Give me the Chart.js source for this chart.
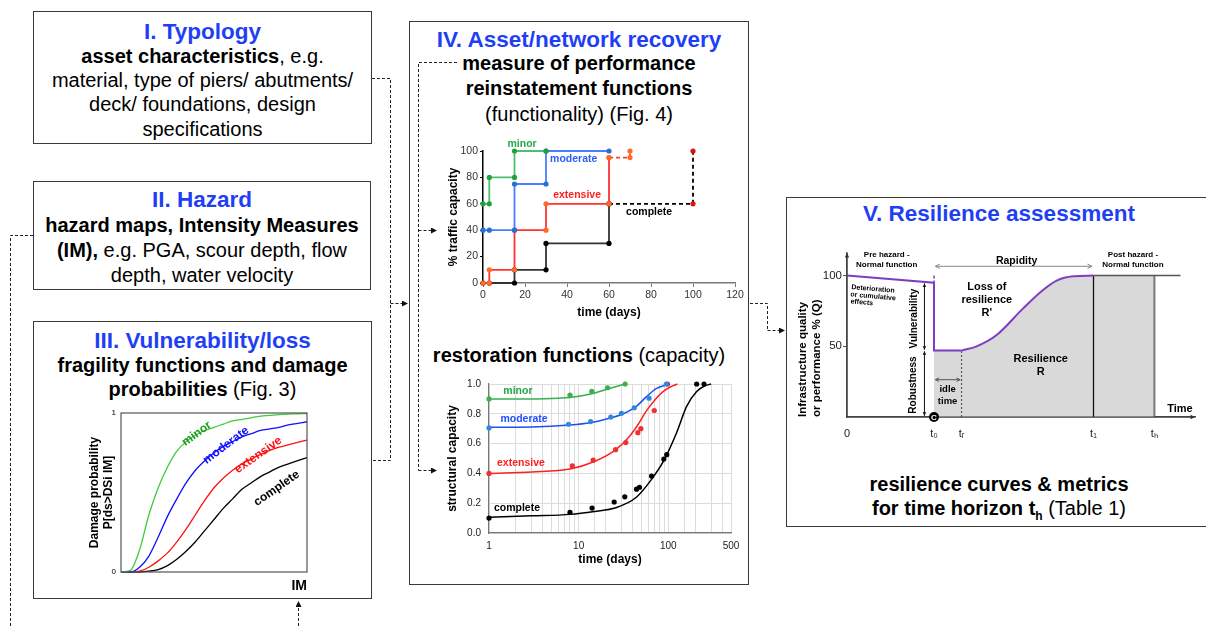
<!DOCTYPE html>
<html lang="en">
<head>
<meta charset="UTF-8" />
<title>Bridge resilience assessment framework</title>
<script src="https://cdn.jsdelivr.net/npm/chart.js"></script>
<style>
  body { margin: 0; background: #fff; font-family: 'Liberation Sans', Arial, sans-serif; }
  #page { position: relative; width: 1206px; height: 626px; overflow: hidden; }
  .box { position: absolute; box-sizing: border-box; border: 1.5px solid #3a3a3a; }
  .txt { position: absolute; text-align: center; color: #000; font-size: 20px; white-space: nowrap; }
  .ttl { position: absolute; text-align: center; color: #1f3ff5; font-size: 22.5px; font-weight: bold; line-height: 26px; white-space: nowrap; }
  canvas { position: absolute; }
  svg { position: absolute; left: 0; top: 0; }
</style>
</head>
<body>
<div id="page">
  <div class="box" style="left:33px;top:11px;width:339px;height:133px"></div>
  <div class="box" style="left:33px;top:181px;width:338px;height:109px"></div>
  <div class="box" style="left:33px;top:321px;width:339px;height:278px"></div>
  <div class="box" style="left:409px;top:21px;width:340px;height:564px"></div>
  <div class="box" style="left:786px;top:197px;width:440px;height:330px"></div>

  <div class="ttl" style="left:33px;width:339px;top:18.7px">I. Typology</div>
  <div class="txt" style="left:33px;width:339px;top:43.5px;line-height:24.4px">
    <b>asset characteristics</b>, e.g.<br>material, type of piers/ abutments/<br>deck/ foundations, design<br>specifications
  </div>

  <div class="ttl" style="left:33px;width:338px;top:187px">II. Hazard</div>
  <div class="txt" style="left:33px;width:338px;top:213.4px;line-height:24.6px">
    <b>hazard maps, Intensity Measures</b><br><b>(IM),</b> e.g. PGA, scour depth, flow<br>depth, water velocity
  </div>

  <div class="ttl" style="left:33px;width:339px;top:327.7px">III. Vulnerability/loss</div>
  <div class="txt" style="left:33px;width:339px;top:353px;line-height:24px">
    <b>fragility functions and damage</b><br><b>probabilities</b> (Fig. 3)
  </div>

  <div class="ttl" style="left:409px;width:340px;top:27px">IV. Asset/network recovery</div>
  <div class="txt" style="left:409px;width:340px;top:50.6px;line-height:25.5px">
    <b>measure of performance</b><br><b>reinstatement functions</b><br>(functionality) (Fig. 4)
  </div>
  <div class="txt" style="left:409px;width:340px;top:342px;line-height:26px">
    <b>restoration functions</b> (capacity)
  </div>

  <div class="ttl" style="left:786px;width:426px;top:201px">V. Resilience assessment</div>
  <div class="txt" style="left:786px;width:426px;top:472px;line-height:24px">
    <b>resilience curves &amp; metrics</b><br><b>for time horizon t<sub style="font-size:12px">h</sub></b> (Table 1)
  </div>

  <canvas id="fragility" width="260" height="195" style="left:60px;top:400px"></canvas>
  <canvas id="traffic" width="328" height="185" style="left:420px;top:135px"></canvas>
  <canvas id="restoration" width="328" height="200" style="left:420px;top:370px"></canvas>
  <canvas id="resilience" width="419" height="200" style="left:787px;top:240px"></canvas>

  <svg width="1206" height="626">
    <defs>
      <marker id="ah" markerWidth="6" markerHeight="6" refX="5" refY="3" orient="auto">
        <path d="M0,0 L6,3 L0,6 z" fill="#111" stroke="none"/>
      </marker>
    </defs>
    <g stroke="#222" stroke-width="1" stroke-dasharray="3,2" fill="none">
      <polyline points="372,78.5 390.5,78.5 390.5,460.5 372,460.5"/>
      <line x1="390.5" y1="303.5" x2="407" y2="303.5" marker-end="url(#ah)"/>
      <polyline points="33,235.5 10.5,235.5 10.5,626"/>
      <line x1="298.5" y1="626" x2="298.5" y2="602" marker-end="url(#ah)"/>
      <polyline points="457,62.5 418.5,62.5 418.5,470.5"/>
      <line x1="418.5" y1="230.5" x2="436" y2="230.5" marker-end="url(#ah)"/>
      <line x1="418.5" y1="470.5" x2="436" y2="470.5" marker-end="url(#ah)"/>
      <polyline points="750,303.5 767.5,303.5 767.5,330.5"/>
      <line x1="767.5" y1="330.5" x2="784" y2="330.5" marker-end="url(#ah)"/>
    </g>
  </svg>
</div>

<script>
  // ---- III. fragility curves (IM given as % of plotted range) ----
  const imSteps = [0, 5, 10, 15, 20, 25, 30, 35, 40, 45, 50, 55, 60, 65, 70, 75, 80, 85, 90, 95, 100];
  const fragMinor = [0, 0.01, 0.14, 0.36, 0.53, 0.66, 0.76, 0.82, 0.86, 0.89, 0.91, 0.93, 0.95, 0.96, 0.97, 0.98, 0.985, 0.99, 0.993, 0.995, 0.997];
  const fragModerate = [0, 0, 0.03, 0.10, 0.22, 0.35, 0.46, 0.56, 0.64, 0.70, 0.75, 0.79, 0.82, 0.85, 0.87, 0.89, 0.90, 0.91, 0.925, 0.935, 0.945];
  const fragExtensive = [0, 0, 0.005, 0.03, 0.07, 0.12, 0.19, 0.27, 0.36, 0.45, 0.53, 0.59, 0.64, 0.68, 0.71, 0.74, 0.765, 0.785, 0.80, 0.815, 0.83];
  const fragComplete = [0, 0, 0, 0.005, 0.015, 0.04, 0.08, 0.13, 0.19, 0.26, 0.33, 0.40, 0.46, 0.52, 0.56, 0.60, 0.63, 0.66, 0.68, 0.70, 0.72];

  // ---- IV. reinstatement (traffic capacity %, step vertices) ----
  const minorDays = [0, 3, 3, 15, 15, 30];
  const minorTraffic = [60, 60, 80, 80, 100, 100];
  const moderateDays = [0, 3, 15, 15, 30, 30, 60];
  const moderateTraffic = [40, 40, 40, 75, 75, 100, 100];
  const extensiveDays = [0, 3, 3, 15, 15, 30, 30, 60, 60];
  const extensiveTraffic = [0, 0, 10, 10, 40, 40, 60, 60, 95];
  const extensiveTailDays = [60, 70, 70];
  const extensiveTailTraffic = [95, 95, 100];
  const completeDays = [0, 3, 15, 15, 30, 30, 60, 60];
  const completeTraffic = [0, 0, 0, 10, 10, 30, 30, 60];
  const completeTailDays = [60, 100, 100];
  const completeTailTraffic = [60, 60, 100];

  // ---- IV. restoration (structural capacity) ----
  const minorObsDays = [1, 8, 14, 21, 33];
  const minorObsCap = [0.90, 0.925, 0.95, 0.975, 1.0];
  const moderateObsDays = [1, 7.7, 13.6, 22.8, 30, 41.7, 61, 95];
  const moderateObsCap = [0.705, 0.73, 0.748, 0.778, 0.803, 0.84, 0.905, 1.0];
  const extensiveObsDays = [1, 8.5, 14.5, 25.8, 33.6, 45.7, 49.4, 69.7, 98];
  const extensiveObsCap = [0.40, 0.45, 0.489, 0.559, 0.607, 0.673, 0.70, 0.822, 1.0];
  const completeObsDays = [1, 8, 14.1, 24.9, 32.7, 44.2, 47.7, 65, 89, 96, 207, 250];
  const completeObsCap = [0.10, 0.138, 0.167, 0.208, 0.243, 0.294, 0.307, 0.382, 0.496, 0.526, 1.0, 1.0];

  const minorFitDays = [1, 3, 6, 8, 14, 22, 33];
  const minorFitCap = [0.90, 0.90, 0.905, 0.91, 0.935, 0.97, 1.0];
  const moderateFitDays = [1, 3, 8, 13.4, 22.6, 30, 44, 57, 74, 90, 104];
  const moderateFitCap = [0.71, 0.712, 0.725, 0.74, 0.772, 0.795, 0.85, 0.915, 0.97, 0.99, 1.0];
  const extensiveFitDays = [1, 3, 8, 15, 26, 37, 45, 57, 70, 88, 105, 126];
  const extensiveFitCap = [0.40, 0.41, 0.43, 0.48, 0.56, 0.65, 0.72, 0.82, 0.89, 0.95, 0.98, 1.0];
  const completeFitDays = [1, 3, 8, 15, 26, 44, 65, 88, 124, 160, 207, 250, 300];
  const completeFitCap = [0.105, 0.115, 0.125, 0.145, 0.17, 0.24, 0.36, 0.48, 0.675, 0.85, 0.95, 0.985, 1.0];
  const logLabels = [1, 10, 100, 500];

  // ---- V. resilience curve ----
  const timeTicks = [0, 30, 39.5, 85, 106];
  const timeLabels = ['0', 't\u2080', 't\u1D63', 't\u2081', 't\u2095'];
  const qTicks = [50, 100];
  const qPreT = [0, 30, 30, 39.5];
  const qPreV = [100, 95, 47, 47];
  const qRecT = [39.5, 44.7, 51.6, 60.8, 67.7, 72.3, 78, 85];
  const qRecV = [47, 50, 58, 77, 90, 96.5, 99.5, 100];

  const FONT = "'Liberation Sans', Arial, sans-serif";
  Chart.defaults.font.family = FONT;
  Chart.defaults.color = '#000';
  Chart.defaults.animation = false;
  Chart.defaults.responsive = false;
  Chart.defaults.plugins.legend.display = false;
  Chart.defaults.plugins.tooltip.enabled = false;

  const xy = (xs, ys) => xs.map((x, i) => ({ x: x, y: ys[i] }));

  function head(ctx, x1, y1, x2, y2, size, open) {
    const a = Math.atan2(y2 - y1, x2 - x1);
    ctx.beginPath();
    ctx.moveTo(x2 - size * Math.cos(a - 0.45), y2 - size * Math.sin(a - 0.45));
    ctx.lineTo(x2, y2);
    ctx.lineTo(x2 - size * Math.cos(a + 0.45), y2 - size * Math.sin(a + 0.45));
    if (open) { ctx.stroke(); } else { ctx.closePath(); ctx.fill(); }
  }

  // draws frames, arrows, markers and text labels in data coordinates
  const overlay = {
    id: 'overlay',
    afterDraw(chart, args, o) {
      const ctx = chart.ctx, a = chart.chartArea;
      const sx = v => chart.scales.x.getPixelForValue(v);
      const sy = v => chart.scales.y.getPixelForValue(v);
      ctx.save();
      if (o.frame) {
        ctx.strokeStyle = o.frame;
        ctx.lineWidth = 1.2;
        ctx.strokeRect(a.left, a.top, a.right - a.left, a.bottom - a.top);
      }
      (o.arrows || []).forEach(r => {
        const x1 = sx(r.from[0]), y1 = sy(r.from[1]), x2 = sx(r.to[0]), y2 = sy(r.to[1]);
        ctx.strokeStyle = r.color || '#000';
        ctx.fillStyle = r.color || '#000';
        ctx.lineWidth = r.width || 1;
        ctx.beginPath(); ctx.moveTo(x1, y1); ctx.lineTo(x2, y2); ctx.stroke();
        head(ctx, x1, y1, x2, y2, r.size || 5, r.open);
        if (r.both) head(ctx, x2, y2, x1, y1, r.size || 5, r.open);
      });
      (o.dots || []).forEach(d => {
        ctx.fillStyle = '#000';
        ctx.beginPath(); ctx.arc(sx(d.x), sy(d.y), d.r, 0, Math.PI * 2); ctx.fill();
        ctx.fillStyle = '#fff';
        ctx.font = 'bold 8px ' + FONT;
        ctx.textAlign = 'center'; ctx.textBaseline = 'middle';
        ctx.fillText(d.text, sx(d.x), sy(d.y) + 0.5);
      });
      (o.texts || []).forEach(t => {
        ctx.save();
        ctx.translate(sx(t.x), sy(t.y));
        ctx.rotate((t.rotate || 0) * Math.PI / 180);
        ctx.font = (t.weight || 'bold') + ' ' + t.size + 'px ' + FONT;
        ctx.fillStyle = t.color || '#000';
        ctx.textAlign = 'center';
        ctx.textBaseline = 'middle';
        ctx.fillText(t.text, 0, 0);
        ctx.restore();
      });
      ctx.restore();
    }
  };
  Chart.register(overlay);

  // ---------- III. fragility ----------
  const frag = (ys, color) => ({ data: xy(imSteps, ys), borderColor: color, borderWidth: 1.3, pointRadius: 0, cubicInterpolationMode: 'monotone', clip: false });
  new Chart(document.getElementById('fragility'), {
    type: 'line',
    data: { datasets: [
      frag(fragMinor, '#3ccc3c'), frag(fragModerate, '#1010ff'),
      frag(fragExtensive, '#ff1010'), frag(fragComplete, '#000')
    ] },
    options: {
      layout: { padding: { top: 13, right: 13, left: 0, bottom: 0 } },
      scales: {
        x: {
          type: 'linear', min: 0, max: 100,
          grid: { display: false, drawTicks: false }, border: { display: false }, ticks: { display: false },
          title: { display: true, text: 'IM', align: 'end', font: { size: 14, weight: 'bold' }, padding: 0 },
          afterFit: s => { s.height = 23; }
        },
        y: {
          min: 0, max: 1,
          grid: { display: false, drawTicks: false }, border: { display: false },
          ticks: { stepSize: 1, font: { size: 8 }, padding: 5 },
          title: { display: true, text: ['Damage probability', 'P[ds>DSi IM]'], font: { size: 12, weight: 'bold', lineHeight: 1.15 }, padding: { top: 28, bottom: 0 } },
          afterFit: s => { s.width = 61; }
        }
      },
      plugins: { overlay: {
        frame: '#555',
        texts: [
          { text: 'minor', x: 40.7, y: 0.87, size: 12, rotate: -36, color: '#1e9b1e' },
          { text: 'moderate', x: 56.5, y: 0.797, size: 12, rotate: -37, color: '#1010ff' },
          { text: 'extensive', x: 73.8, y: 0.736, size: 12, rotate: -35, color: '#ff1010' },
          { text: 'complete', x: 83.7, y: 0.526, size: 12, rotate: -35, color: '#000' }
        ]
      } }
    }
  });

  // ---------- IV. traffic capacity ----------
  const step = (xs, ys, line, marker, dash) => ({
    data: xy(xs, ys), borderColor: line, borderWidth: 1.8, borderDash: dash || [],
    pointRadius: 2.6, pointBackgroundColor: marker, pointBorderWidth: 0, tension: 0, clip: false
  });
  new Chart(document.getElementById('traffic'), {
    type: 'line',
    data: { datasets: [
      step(minorDays, minorTraffic, '#4cc070', '#22a040'),
      step(moderateDays, moderateTraffic, '#4a7dff', '#2a6fd0'),
      step(extensiveDays, extensiveTraffic, '#ff3333', '#ff6a2a'),
      step(extensiveTailDays, extensiveTailTraffic, '#ff4020', '#ff6a2a', [4, 3]),
      step(completeDays, completeTraffic, '#333', '#000'),
      step(completeTailDays, completeTailTraffic, '#000', ['#000', '#d11', '#d11'], [4, 3])
    ] },
    options: {
      layout: { padding: { top: 16, right: 13, left: 0, bottom: 0 } },
      scales: {
        x: {
          type: 'linear', min: 0, max: 120,
          grid: { drawOnChartArea: false, tickLength: 4, color: '#777' },
          border: { color: '#777', width: 1.5 },
          ticks: { stepSize: 20, font: { size: 10.5 }, color: '#333', padding: 2, maxRotation: 0 },
          title: { display: true, text: 'time (days)', font: { size: 12, weight: 'bold' }, padding: 0 },
          afterFit: s => { s.height = 37; }
        },
        y: {
          min: 0, max: 100,
          grid: { drawOnChartArea: false, tickLength: 3, color: '#000' },
          border: { color: '#000', width: 1.5 },
          ticks: { stepSize: 20, font: { size: 10.5 }, color: '#333', padding: 2 },
          title: { display: true, text: '% traffic capacity', font: { size: 12, weight: 'bold' }, padding: { top: 26, bottom: 0 } },
          afterFit: s => { s.width = 63; }
        }
      },
      plugins: { overlay: {
        texts: [
          { text: 'minor', x: 18.6, y: 105.1, size: 10.5, color: '#22a84a' },
          { text: 'moderate', x: 43.2, y: 93.7, size: 10.5, color: '#2d5ef5' },
          { text: 'extensive', x: 44.8, y: 66.6, size: 10.5, color: '#ff2020' },
          { text: 'complete', x: 79.1, y: 53.5, size: 10.5, color: '#000' }
        ]
      } }
    }
  });

  // ---------- IV. structural capacity ----------
  const fit = (xs, ys, color) => ({ data: xy(xs, ys), borderColor: color, borderWidth: 1.5, pointRadius: 0, cubicInterpolationMode: 'monotone', clip: false });
  const obs = (xs, ys, color) => ({ data: xy(xs, ys), showLine: false, pointRadius: 2.6, pointBackgroundColor: color, pointBorderWidth: 0, clip: false });
  new Chart(document.getElementById('restoration'), {
    type: 'line',
    data: { datasets: [
      obs(minorObsDays, minorObsCap, '#3cb04a'), fit(minorFitDays, minorFitCap, '#35b050'),
      obs(moderateObsDays, moderateObsCap, '#3388dd'), fit(moderateFitDays, moderateFitCap, '#2050f0'),
      obs(extensiveObsDays, extensiveObsCap, '#f03030'), fit(extensiveFitDays, extensiveFitCap, '#ff2020'),
      obs(completeObsDays, completeObsCap, '#000'), fit(completeFitDays, completeFitCap, '#000')
    ] },
    options: {
      layout: { padding: { top: 11, right: 17, left: 0, bottom: 0 } },
      scales: {
        x: {
          type: 'logarithmic', min: 1, max: 500,
          grid: { color: '#dcdcdc', drawTicks: false },
          border: { color: '#777', width: 1.2 },
          ticks: {
            autoSkip: false, maxRotation: 0, font: { size: 10 }, color: '#222', padding: 7,
            callback: v => logLabels.some(l => Math.abs(l - v) < 1e-6) ? String(Math.round(v)) : ''
          },
          title: { display: true, text: 'time (days)', font: { size: 12, weight: 'bold' }, padding: { top: 0, bottom: 3 } },
          afterFit: s => { s.height = 37; }
        },
        y: {
          min: 0, max: 1,
          grid: { color: '#dcdcdc', drawTicks: false },
          border: { color: '#777', width: 1.2 },
          ticks: { stepSize: 0.1, font: { size: 10 }, color: '#222', padding: 8, callback: v => v.toFixed(1) },
          title: { display: true, text: 'structural capacity', font: { size: 12, weight: 'bold' }, padding: { top: 25, bottom: 0 } },
          afterFit: s => { s.width = 69; }
        }
      },
      plugins: { overlay: {
        texts: [
          { text: 'minor', x: 2.1, y: 0.954, size: 10.5, color: '#22a84a' },
          { text: 'moderate', x: 2.46, y: 0.763, size: 10.5, color: '#1f4fff' },
          { text: 'extensive', x: 2.27, y: 0.467, size: 10.5, color: '#ff2020' },
          { text: 'complete', x: 2.05, y: 0.164, size: 10.5, color: '#000' }
        ]
      } }
    }
  });

  // ---------- V. resilience ----------
  const plain = (xs, ys, color, width, dash) => ({ data: xy(xs, ys), borderColor: color, borderWidth: width, borderDash: dash || [], pointRadius: 0, tension: 0, clip: false });
  new Chart(document.getElementById('resilience'), {
    type: 'line',
    data: { datasets: [
      plain(qPreT, qPreV, '#7b3fbf', 2),
      Object.assign(plain(qRecT, qRecV, '#7b3fbf', 2), { cubicInterpolationMode: 'monotone' }),
      plain([30, 30], [100, 47], '#7b3fbf', 1.5, [3, 2]),
      plain([85, 115], [100, 100], '#555', 1.5),
      plain([85, 85], [0, 100], '#111', 1.3),
      plain([106, 106], [0, 100], '#777', 2),
      plain([39.5, 39.5], [0, 47], '#444', 1, [2, 2]),
      {
        data: xy([30].concat(qRecT, [106]), [47].concat(qRecV, [100])),
        borderWidth: 0, pointRadius: 0, backgroundColor: '#d9d9d9', fill: 'origin',
        cubicInterpolationMode: 'monotone', clip: false
      }
    ] },
    options: {
      layout: { padding: { top: 13, right: 11, left: 0, bottom: 0 } },
      scales: {
        x: {
          type: 'linear', min: 0, max: 120,
          grid: { display: false, drawTicks: false },
          border: { color: '#555', width: 1.5 },
          afterBuildTicks: s => { s.ticks = timeTicks.map(v => ({ value: v })); },
          ticks: { autoSkip: false, maxRotation: 0, font: { size: 11 }, color: '#222', padding: 10,
            callback: v => timeLabels[timeTicks.indexOf(v)] },
          afterFit: s => { s.height = 23; }
        },
        y: {
          min: 0, max: 116,
          grid: { drawOnChartArea: false, tickLength: 4, color: '#555' },
          border: { color: '#555', width: 1.5 },
          afterBuildTicks: s => { s.ticks = qTicks.map(v => ({ value: v })); },
          ticks: { font: { size: 11.5 }, color: '#222', padding: 1 },
          title: { display: true, text: ['Infrastructure quality', 'or performance % (Q)'], align: 'start',
            font: { size: 11.5, weight: 'bold', lineHeight: 1.2 }, padding: { top: 9, bottom: 0 } },
          afterFit: s => { s.width = 60; }
        }
      },
      plugins: { overlay: {
        arrows: [
          { from: [0, 0], to: [0, 116], color: '#333', size: 5 },
          { from: [0, 0], to: [120, 0], color: '#333', size: 5 },
          { from: [30.5, 106.6], to: [84.5, 106.6], color: '#888', size: 5, open: true, both: true },
          { from: [26.7, 0.8], to: [26.7, 46.5], color: '#111', size: 4, both: true },
          { from: [26.7, 47.5], to: [26.7, 94.5], color: '#111', size: 4, both: true },
          { from: [30.5, 26.4], to: [39, 26.4], color: '#555', size: 4, open: true, both: true }
        ],
        dots: [{ x: 30, y: 0, r: 5, text: 'C' }],
        texts: [
          { text: 'Pre hazard -', x: 13.7, y: 114.9, size: 8 },
          { text: 'Normal function', x: 13.7, y: 107.9, size: 8 },
          { text: 'Post hazard -', x: 98.6, y: 114.9, size: 8 },
          { text: 'Normal function', x: 98.6, y: 107.9, size: 8 },
          { text: 'Rapidity', x: 58.5, y: 110.1, size: 10.5 },
          { text: 'Deterioration', x: 9, y: 90.6, size: 7, rotate: 5 },
          { text: 'or cumulative', x: 9, y: 85.3, size: 7, rotate: 5 },
          { text: 'effects', x: 5.1, y: 81.1, size: 7, rotate: 5 },
          { text: 'Loss of', x: 48.2, y: 92, size: 11 },
          { text: 'resilience', x: 48.2, y: 82.5, size: 11 },
          { text: "R'", x: 48.2, y: 73.6, size: 11 },
          { text: 'Resilience', x: 66.8, y: 41, size: 11 },
          { text: 'R', x: 66.8, y: 31.6, size: 11 },
          { text: 'idle', x: 34.7, y: 19.4, size: 9.5 },
          { text: 'time', x: 34.7, y: 11, size: 9.5 },
          { text: 'Robustness', x: 22.8, y: 22.6, size: 10, rotate: -90 },
          { text: 'Vulnerability', x: 23.1, y: 69.6, size: 10, rotate: -90 },
          { text: 'Time', x: 114.8, y: 5.7, size: 11 }
        ]
      } }
    }
  });
</script>
</body>
</html>
